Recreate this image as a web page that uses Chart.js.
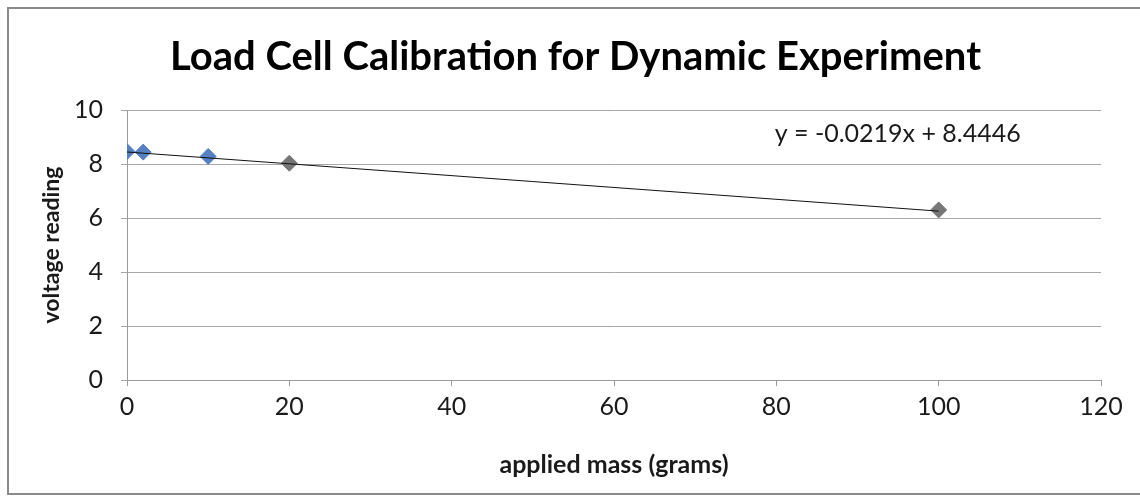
<!DOCTYPE html>
<html>
<head>
<meta charset="utf-8">
<script src="https://cdn.jsdelivr.net/npm/chart.js@4.4.1/dist/chart.umd.min.js"></script>
<style>
  html, body { margin: 0; padding: 0; background: #ffffff; }
  #wrap { position: relative; width: 1140px; height: 496px; }
</style>
</head>
<body>
<div id="wrap"><canvas id="c" width="1140" height="496"></canvas></div>
<script>
// ---- data ----
const massGrams = [0, 2, 10, 20, 100];
const voltage   = [8.46, 8.44, 8.28, 8.03, 6.30];
const pointColors = ['#5580c2', '#5580c2', '#5580c2', '#767676', '#767676'];
const trendX = [0, 100];
const trendY = [8.4446, 6.2546];
const xTicks = [0, 20, 40, 60, 80, 100, 120];
const yTicks = [0, 2, 4, 6, 8, 10];
const titleText = 'Load Cell Calibration for Dynamic Experiment';
const xTitle = 'applied mass (grams)';
const yTitle = 'voltage reading';
const equationText = 'y = -0.0219x + 8.4446';

const FONT = 'Lato, "Open Sans", "Liberation Sans", sans-serif';

const framePlugin = {
  id: 'frame',
  afterLayout(chart) {
    // centre the title over the framed chart region like the original
    if (chart.titleBlock) { chart.titleBlock.left = 50; }
  },
  beforeDraw(chart) {
    const ctx = chart.ctx;
    ctx.save();
    ctx.fillStyle = '#ffffff';
    ctx.fillRect(0, 0, chart.width, chart.height);
    ctx.strokeStyle = '#8a8a8a';
    ctx.lineWidth = 2;
    ctx.strokeRect(8, 8, chart.width + 10, 486);
    ctx.restore();
  }
};

const equationPlugin = {
  id: 'equation',
  afterDatasetsDraw(chart) {
    const ctx = chart.ctx;
    const xs = chart.scales.x, ys = chart.scales.y;
    ctx.save();
    ctx.font = '25px ' + FONT;
    ctx.fillStyle = '#1a1a1a';
    ctx.textAlign = 'left';
    ctx.textBaseline = 'middle';
    ctx.fillText(equationText, xs.getPixelForValue(79.8), ys.getPixelForValue(9.1));
    ctx.restore();
  }
};

const points = massGrams.map((m, i) => ({ x: m, y: voltage[i] }));
const trend = trendX.map((m, i) => ({ x: m, y: trendY[i] }));

new Chart(document.getElementById('c'), {
  type: 'scatter',
  data: {
    datasets: [
      {
        type: 'line',
        data: trend,
        borderColor: '#111111',
        borderWidth: 1,
        pointRadius: 0,
        fill: false,
        showLine: true
      },
      {
        data: points,
        pointStyle: 'rectRot',
        pointRadius: 8,
        pointBackgroundColor: pointColors,
        pointBorderColor: pointColors,
        pointBorderWidth: 1
      }
    ]
  },
  options: {
    responsive: false,
    animation: false,
    layout: { padding: { left: 0, right: 39, top: 0, bottom: 0 } },
    plugins: {
      legend: { display: false },
      tooltip: { enabled: false },
      title: {
        display: true,
        text: titleText,
        color: '#000000',
        font: { family: FONT, size: 40, weight: 'bold' },
        padding: { top: 33, bottom: 29 }
      }
    },
    scales: {
      x: {
        type: 'linear',
        min: 0, max: 120,
        afterBuildTicks(s) { s.ticks = xTicks.map(v => ({ value: v })); },
        afterFit(s) { s.height = 116; },
        grid: { drawOnChartArea: false, drawTicks: true, tickLength: 6, color: '#9a9a9a' },
        border: { color: '#9a9a9a', width: 1 },
        ticks: { color: '#1a1a1a', font: { family: FONT, size: 25 }, padding: 6, maxRotation: 0 },
        title: {
          display: true, text: xTitle, color: '#1a1a1a',
          font: { family: FONT, size: 25, weight: 'bold' },
          padding: { top: 0, bottom: 16 }
        }
      },
      y: {
        type: 'linear',
        min: 0, max: 10,
        afterBuildTicks(s) { s.ticks = yTicks.map(v => ({ value: v })); },
        afterFit(s) { s.width = 127; },
        grid: { drawOnChartArea: true, drawTicks: true, tickLength: 6, color: '#a8a8a8' },
        border: { color: '#9a9a9a', width: 1 },
        ticks: { color: '#1a1a1a', font: { family: FONT, size: 25 }, padding: 18 },
        title: {
          display: true, text: yTitle, color: '#1a1a1a',
          font: { family: FONT, size: 23, weight: 'bold' },
          padding: { top: 38, bottom: 0 }
        }
      }
    }
  },
  plugins: [framePlugin, equationPlugin]
});
</script>
</body>
</html>
